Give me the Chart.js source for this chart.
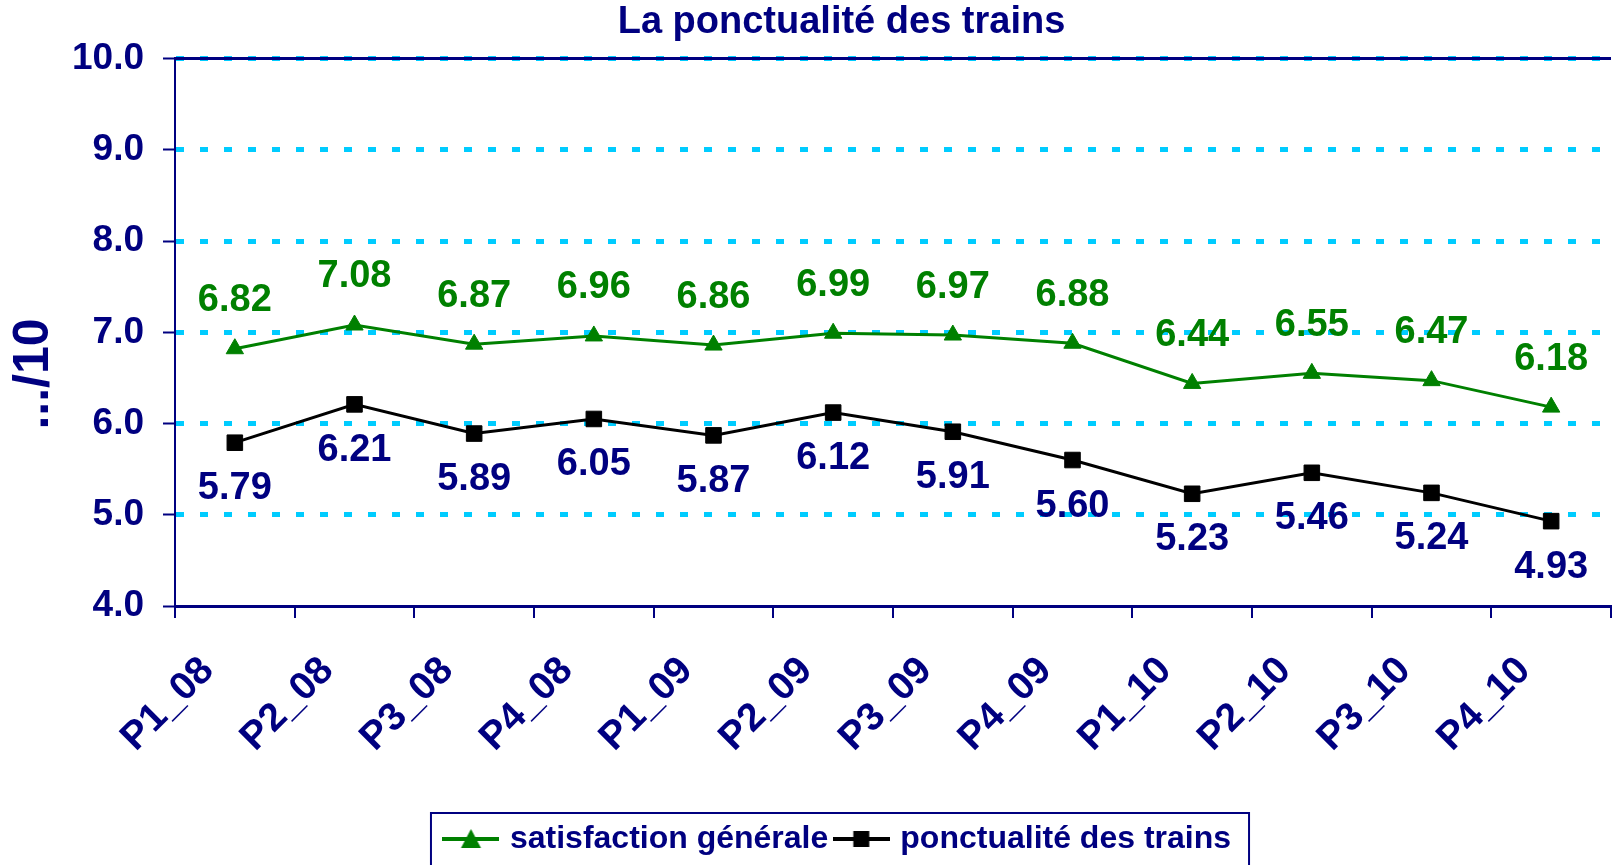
<!DOCTYPE html>
<html>
<head>
<meta charset="utf-8">
<script src="https://cdn.jsdelivr.net/npm/chart.js@4/dist/chart.umd.min.js"></script>
<style>
  html, body { margin: 0; padding: 0; background: #fff; }
  #chart { display: block; }
</style>
</head>
<body>
<canvas id="chart" width="1623" height="865"></canvas>
<script>
// Train punctuality survey scores (out of 10), per period.
const periods = ["P1_08", "P2_08", "P3_08", "P4_08", "P1_09", "P2_09", "P3_09", "P4_09", "P1_10", "P2_10", "P3_10", "P4_10"];
const satisfaction = [6.82, 7.08, 6.87, 6.96, 6.86, 6.99, 6.97, 6.88, 6.44, 6.55, 6.47, 6.18];
const punctuality = [5.79, 6.21, 5.89, 6.05, 5.87, 6.12, 5.91, 5.60, 5.23, 5.46, 5.24, 4.93];
const yTicks = [4, 5, 6, 7, 8, 9, 10];

const NAVY = "#000080";
const GREEN = "#008000";
const CYAN = "#00CCFF";
const FONT = "'Liberation Sans', Arial, Helvetica, sans-serif";
Chart.defaults.font.family = FONT;

// legend icon: short line with the series marker in the middle
function legendIcon(color, shape) {
  const c = document.createElement("canvas");
  c.width = 57; c.height = 22;
  const g = c.getContext("2d");
  g.strokeStyle = color; g.lineWidth = 4;
  g.beginPath(); g.moveTo(0, 11); g.lineTo(57, 11); g.stroke();
  g.fillStyle = color;
  g.beginPath();
  if (shape === "triangle") {
    g.moveTo(28.5, 1); g.lineTo(38.5, 20); g.lineTo(18.5, 20); g.closePath();
  } else {
    g.rect(20.5, 3, 16, 16);
  }
  g.fill();
  return c;
}
const legendIcons = [legendIcon(GREEN, "triangle"), legendIcon("#000", "rect")];

// value labels above (satisfaction) / below (punctuality) each point
const valueLabels = {
  id: "valueLabels",
  afterDatasetsDraw(chart, args, opts) {
    const ctx = chart.ctx;
    chart.data.datasets.forEach((ds, i) => {
      const meta = chart.getDatasetMeta(i);
      ctx.save();
      ctx.font = `bold 38px ${FONT}`;
      ctx.fillStyle = opts.colors[i];
      ctx.textAlign = "center";
      ctx.textBaseline = "middle";
      meta.data.forEach((pt, j) => {
        ctx.fillText(ds.data[j].toFixed(2), pt.x, pt.y + opts.shifts[i]);
      });
      ctx.restore();
    });
  }
};

// navy top edge of the plot area + box around the legend
const frame = {
  id: "frame",
  afterLayout(chart) {
    chart.legend.left += 28;
    chart.legend.right += 28;
    chart.titleBlock.left += 30;
    chart.titleBlock.right += 30;
  },
  beforeDatasetsDraw(chart) {
    const { ctx, chartArea: a } = chart;
    ctx.save();
    ctx.strokeStyle = NAVY; ctx.lineWidth = 3;
    ctx.beginPath(); ctx.moveTo(a.left - 1, a.top); ctx.lineTo(a.right, a.top); ctx.stroke();
    ctx.restore();
  },
  afterDraw(chart) {
    const lg = chart.legend;
    const hb = lg.legendHitBoxes;
    if (!hb || !hb.length) return;
    const left = Math.min(...hb.map(h => h.left)) - 17;
    const right = Math.max(...hb.map(h => h.left + h.width)) + 18;
    const ctx = chart.ctx;
    ctx.save();
    ctx.strokeStyle = NAVY; ctx.lineWidth = 2;
    ctx.strokeRect(left, lg.top, right - left, 100);
    ctx.restore();
  }
};

new Chart(document.getElementById("chart"), {
  type: "line",
  data: {
    labels: periods,
    datasets: [
      {
        label: "satisfaction générale",
        data: satisfaction,
        borderColor: GREEN, backgroundColor: GREEN,
        borderWidth: 3, pointStyle: "triangle", pointRadius: 10,
        pointBorderWidth: 1, tension: 0
      },
      {
        label: "ponctualité des trains",
        data: punctuality,
        borderColor: "#000000", backgroundColor: "#000000",
        borderWidth: 3, pointStyle: "rect", pointRadius: 11,
        pointBorderWidth: 1, tension: 0
      }
    ]
  },
  options: {
    responsive: false,
    animation: false,
    layout: { padding: 0 },
    plugins: {
      title: {
        display: true,
        text: "La ponctualité des trains",
        color: NAVY,
        font: { size: 38, weight: "bold" },
        padding: { top: 0, bottom: 13 }
      },
      legend: {
        position: "bottom",
        labels: {
          usePointStyle: true,
          pointStyleWidth: 46,
          color: NAVY,
          padding: 10,
          font: { size: 32, weight: "bold" },
          generateLabels(chart) {
            const items = Chart.defaults.plugins.legend.labels.generateLabels(chart);
            items.forEach((it, i) => { it.pointStyle = legendIcons[i]; it.fontColor = NAVY; });
            return items;
          }
        }
      },
      tooltip: { enabled: false },
      valueLabels: { colors: [GREEN, NAVY], shifts: [-48, 46] }
    },
    scales: {
      x: {
        offset: true,
        grid: {
          offset: true, drawOnChartArea: false,
          color: NAVY, lineWidth: 2, tickLength: 12
        },
        border: { color: NAVY, width: 3 },
        ticks: {
          autoSkip: false, minRotation: 45, maxRotation: 45,
          labelOffset: -27, padding: 30,
          color: NAVY, font: { size: 39, weight: "bold" }
        },
        afterFit(s) { s.height = 207; }
      },
      y: {
        min: 4, max: 10,
        afterBuildTicks(s) { s.ticks = yTicks.map(v => ({ value: v })); },
        grid: {
          color: c => (c.tick && c.tick.value === 4 ? "rgba(0,0,0,0)" : CYAN),
          lineWidth: 5, tickLength: 12, tickColor: NAVY, tickWidth: 2, tickBorderDash: []
        },
        border: { color: NAVY, width: 2, dash: [8, 16] },
        ticks: {
          color: NAVY, padding: 19,
          font: { size: 37, weight: "bold" },
          callback: v => Number(v).toFixed(1)
        },
        title: {
          display: true,
          text: ".../10      ",
          color: NAVY,
          font: { size: 50, weight: "bold" },
          padding: { top: 4, bottom: 4 }
        },
        afterFit(s) { s.width = 175; }
      }
    }
  },
  plugins: [valueLabels, frame]
});
</script>
</body>
</html>
